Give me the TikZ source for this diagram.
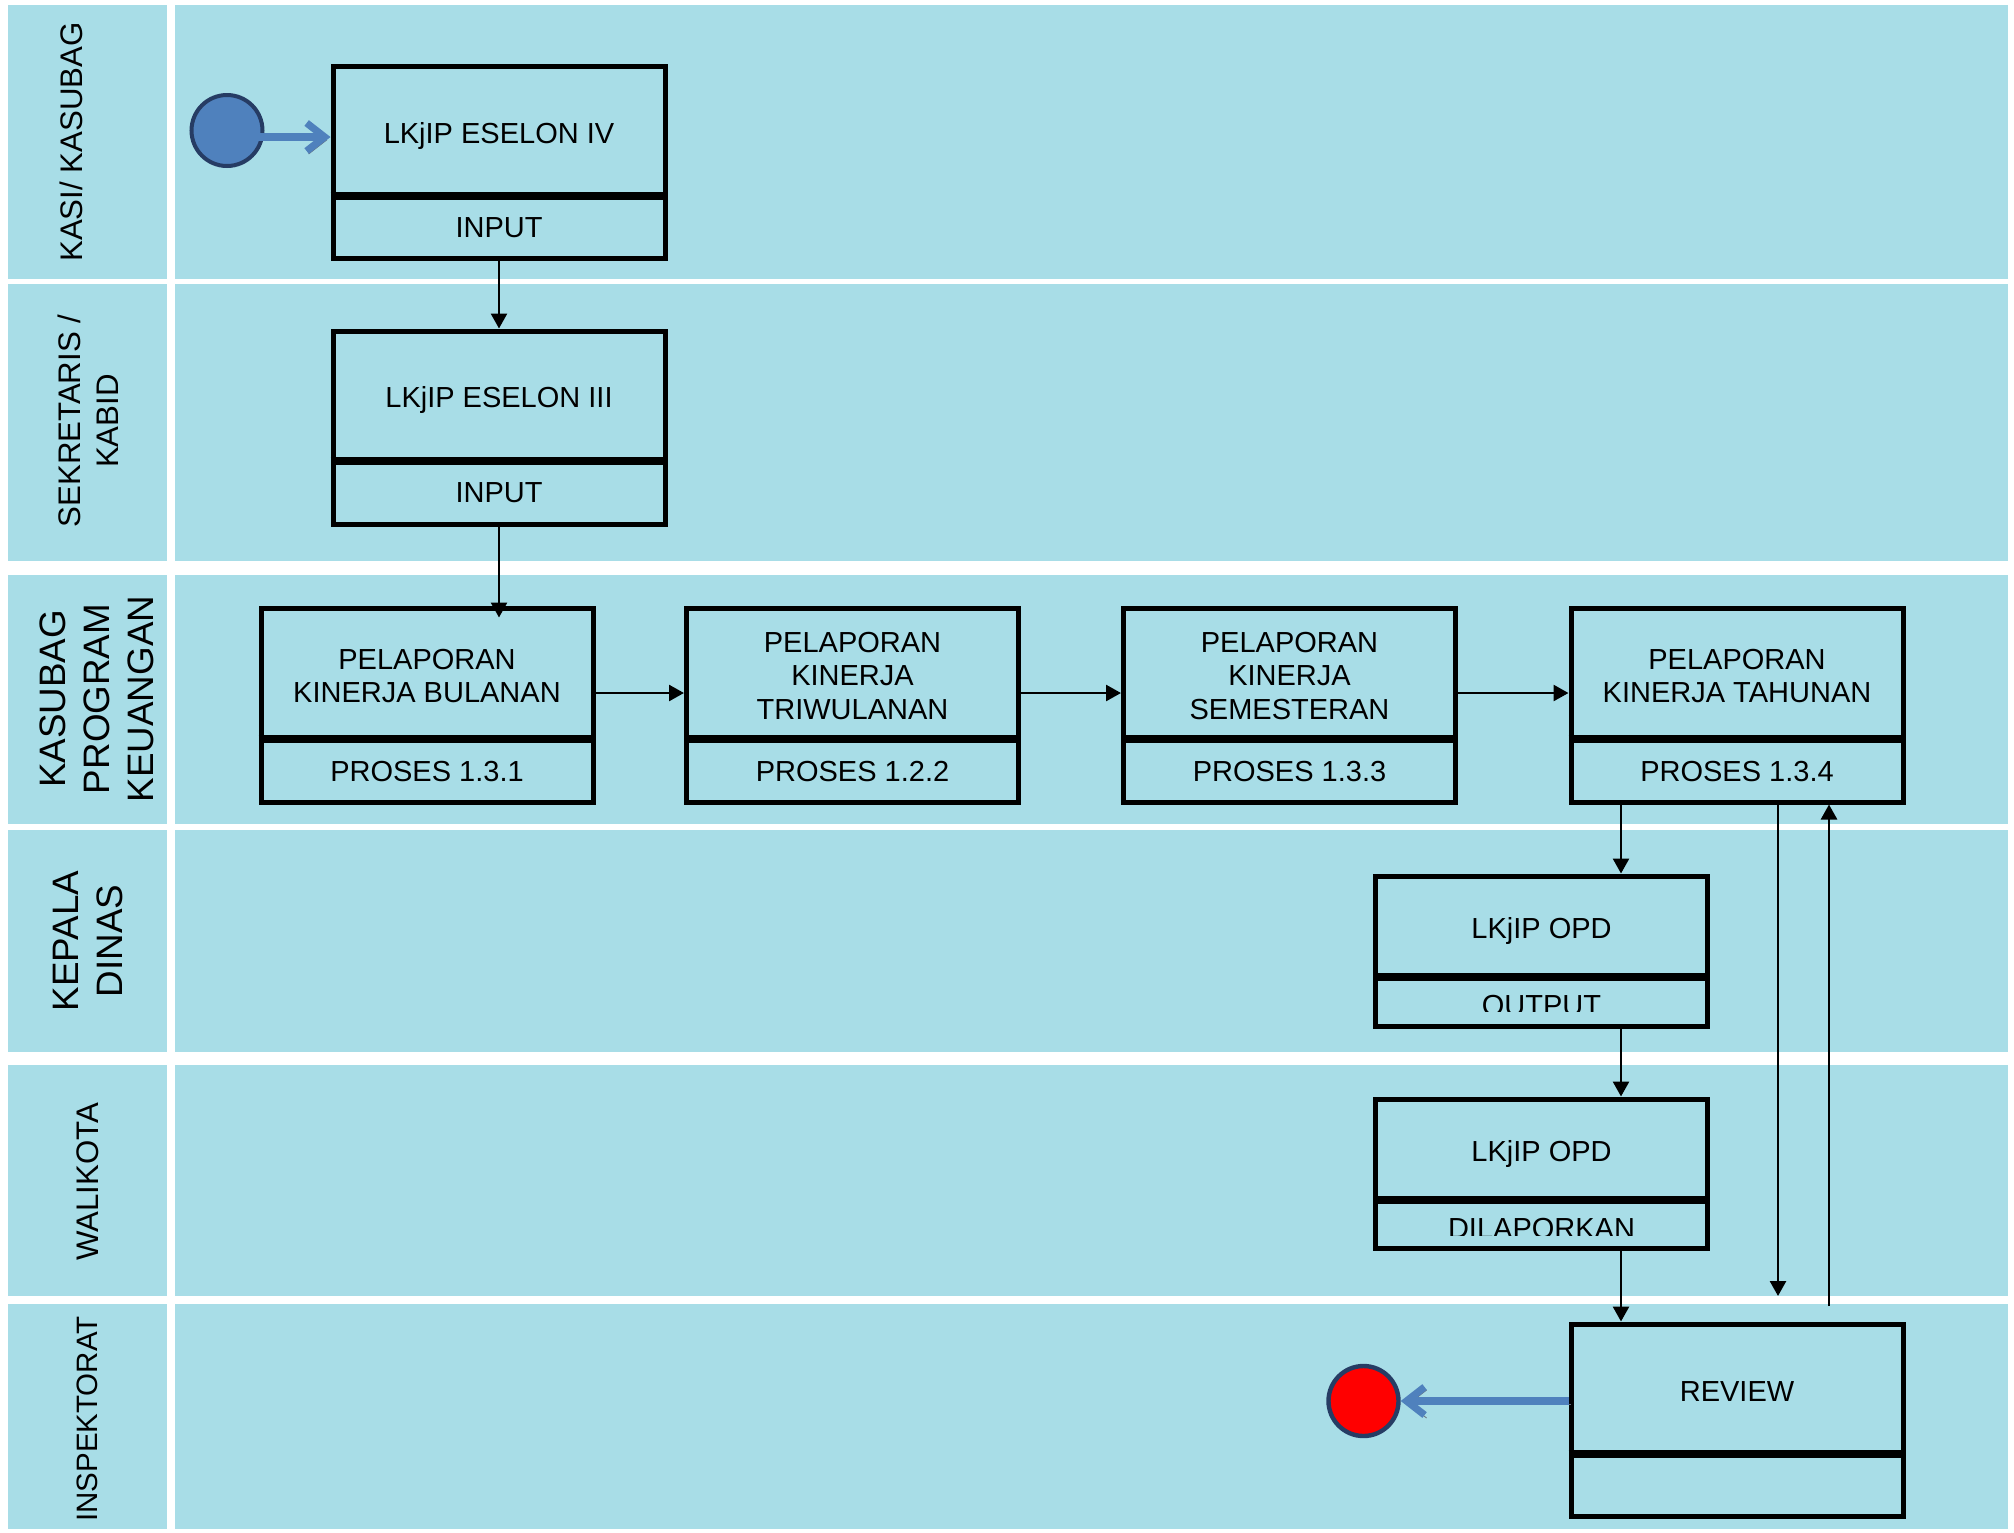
\documentclass[tikz,border=0pt]{standalone}
\usepackage{fontspec}
\setmainfont{Liberation Sans}
\usetikzlibrary{arrows.meta,calc}
\definecolor{lanebg}{RGB}{168,221,231}
\definecolor{startblue}{RGB}{79,129,189}
\definecolor{rimblue}{RGB}{38,60,100}
\definecolor{arrowblue}{RGB}{79,129,189}
\definecolor{arrowshadow}{RGB}{100,110,122}
\definecolor{endred}{RGB}{255,0,0}
\tikzset{
  box/.style={draw=black, line width=2.5pt, inner sep=0pt, minimum width=166pt},
  divider/.style={draw=black, line width=3.8pt},
  boxtext/.style={font=\fontsize{14.5pt}{16.75pt}\selectfont, align=center, inner sep=0pt},
  lanetext/.style={rotate=90, align=center, inner sep=0pt, font=\fontsize{15.6pt}{19pt}\selectfont},
  lanetextbig/.style={rotate=90, align=center, inner sep=0pt, font=\fontsize{18.4pt}{22pt}\selectfont},
  flow/.style={draw=black, line width=1.3pt, -{Triangle[length=7.5pt,width=8pt]}},
  bluearrow/.style={draw=arrowblue, line width=3.6pt, -{Straight Barb[length=9pt,width=14pt]},
    preaction={draw=arrowshadow, transform canvas={shift={(1pt,-1.5pt)}}}},
  startc/.style={circle, fill=startblue, draw=rimblue, line width=2pt, minimum size=35.5pt, inner sep=0pt},
  endc/.style={circle, fill=endred, draw=rimblue, line width=2.2pt, minimum size=35pt, inner sep=0pt}
}
\begin{document}
\begin{tikzpicture}[x=0.5pt,y=-0.5pt]
\useasboundingbox (0,0) rectangle (2014,1532);
\fill[white] (0,0) rectangle (2014,1532);
% swimlanes
\foreach \t/\b in {5/279, 284/561, 575/824, 830/1052, 1065/1296, 1304/1529} {
  \fill[lanebg] (8,\t) rectangle (167,\b);
  \fill[lanebg] (175,\t) rectangle (2008,\b);
}
% lane labels
\node[lanetext] (l1) at (71,142) {KASI/ KASUBAG};
\node[lanetext] (l2) at (88,421) {SEKRETARIS /\\KABID};
\node[lanetextbig] (l3) at (96.5,699) {KASUBAG\\PROGRAM\\KEUANGAN};
\node[lanetextbig] (l4) at (88.5,941) {KEPALA\\DINAS};
\node[lanetext] (l5) at (88,1182) {WALIKOTA};
\node[lanetext, font=\fontsize{14.75pt}{18pt}\selectfont] (l6) at (87.5,1419) {INSPEKTORAT};

% boxes
\node[box, minimum height=96pt] (b1) at (499,162) {};
\draw[divider] (b1.west |- 0,196) -- (b1.east |- 0,196);
\node[boxtext, anchor=base] (b1t) at (499,143) {LKjIP ESELON IV};
\node[boxtext, anchor=base] (b1s) at (499,237) {INPUT};

\node[box, minimum height=96.5pt] (b2) at (499,427.5) {};
\draw[divider] (b2.west |- 0,461) -- (b2.east |- 0,461);
\node[boxtext, anchor=base] (b2t) at (499,407) {LKjIP ESELON III};
\node[boxtext, anchor=base] (b2s) at (499,502) {INPUT};

\node[box, minimum height=97pt] (bA) at (427,705) {};
\draw[divider] (bA.west |- 0,739) -- (bA.east |- 0,739);
\node[boxtext] (bAt) at (427,676) {PELAPORAN\\KINERJA BULANAN};
\node[boxtext, anchor=base] (bAs) at (427,781) {PROSES 1.3.1};

\node[box, minimum height=97pt] (bB) at (852.5,705) {};
\draw[divider] (bB.west |- 0,739) -- (bB.east |- 0,739);
\node[boxtext] (bBt) at (852.5,676) {PELAPORAN\\KINERJA\\TRIWULANAN};
\node[boxtext, anchor=base] (bBs) at (852.5,781) {PROSES 1.2.2};

\node[box, minimum height=97pt] (bC) at (1289.5,705) {};
\draw[divider] (bC.west |- 0,739) -- (bC.east |- 0,739);
\node[boxtext] (bCt) at (1289.5,676) {PELAPORAN\\KINERJA\\SEMESTERAN};
\node[boxtext, anchor=base] (bCs) at (1289.5,781) {PROSES 1.3.3};

\node[box, minimum height=97pt] (bD) at (1737,705) {};
\draw[divider] (bD.west |- 0,739) -- (bD.east |- 0,739);
\node[boxtext] (bDt) at (1737,676) {PELAPORAN\\KINERJA TAHUNAN};
\node[boxtext, anchor=base] (bDs) at (1737,781) {PROSES 1.3.4};

\node[box, minimum height=75pt] (bE) at (1541.5,951) {};
\draw[divider] (bE.west |- 0,977) -- (bE.east |- 0,977);
\node[boxtext, anchor=base] (bEt) at (1541.5,938) {LKjIP OPD};
\begin{scope}
  \clip (1380,982) rectangle (1703,1011);
  \node[boxtext, anchor=base] (bEs) at (1541.5,1015) {OUTPUT};
\end{scope}

\node[box, minimum height=74.5pt] (bF) at (1541.5,1173.5) {};
\draw[divider] (bF.west |- 0,1200) -- (bF.east |- 0,1200);
\node[boxtext, anchor=base] (bFt) at (1541.5,1161) {LKjIP OPD};
\begin{scope}
  \clip (1380,1205) rectangle (1703,1235);
  \node[boxtext, anchor=base] (bFs) at (1541.5,1238) {DILAPORKAN};
\end{scope}

\node[box, minimum height=96pt] (bG) at (1737,1420) {};
\draw[divider] (bG.west |- 0,1454) -- (bG.east |- 0,1454);
\node[boxtext, anchor=base] (bGt) at (1737,1401) {REVIEW};

% start / end
\node[startc] (start) at (227,130.5) {};
\draw[bluearrow] ([yshift=-3.25pt]start.center) -- ([yshift=-3.25pt]start.center -| b1.west);
\node[endc] (endc) at (1363.5,1401) {};
\draw[bluearrow] ([yshift=9.5pt]bG.west) -- (endc);

% flow connectors
\draw[flow] (b1.south) -- (b2.north);
\draw[flow, shorten >=-6pt] (b2.south) -- (b2.south |- bA.north);
\draw[flow] ([yshift=6pt]bA.east) -- ([yshift=6pt]bB.west);
\draw[flow] ([yshift=6pt]bB.east) -- ([yshift=6pt]bC.west);
\draw[flow] ([yshift=6pt]bC.east) -- ([yshift=6pt]bD.west);
\draw[flow] ([xshift=-58pt]bD.south) -- ([xshift=39.75pt]bE.north);
\draw[flow] ([xshift=39.75pt]bE.south) -- ([xshift=39.75pt]bF.north);
\draw[flow] ([xshift=39.75pt]bF.south) -- ([xshift=-58pt]bG.north);
\coordinate (downend) at (1778,1296);
\coordinate (upstart) at (1829,1306);
\draw[flow] ([xshift=20.5pt]bD.south) -- (downend);
\draw[flow] (upstart) -- ([xshift=46pt]bD.south);
\end{tikzpicture}
\end{document}
